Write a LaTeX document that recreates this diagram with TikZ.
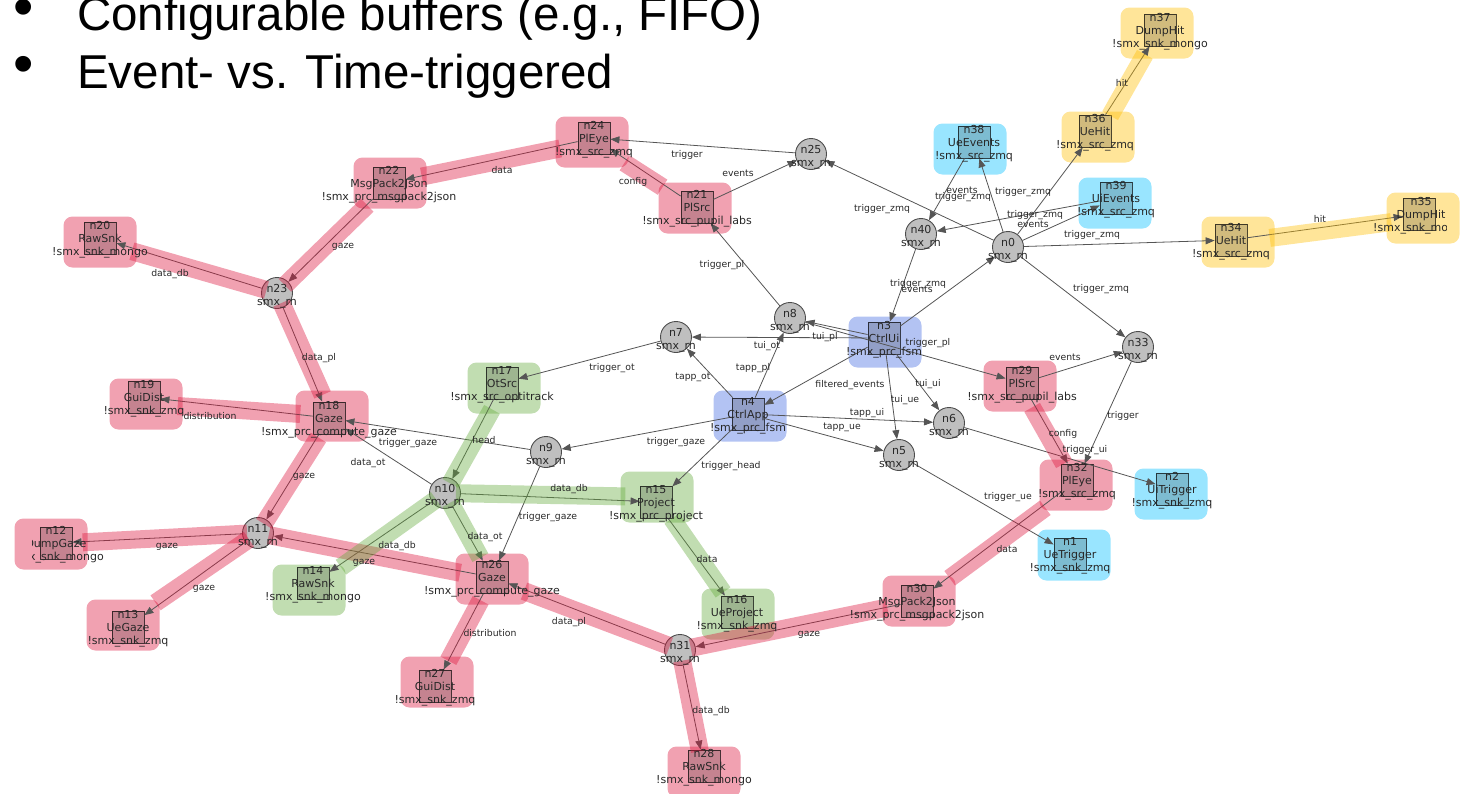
\documentclass[tikz,border=0pt]{standalone}
\usepackage{fontspec}
\setmainfont{DejaVu Sans}
\newfontfamily\titlefont{Liberation Sans}
\usetikzlibrary{arrows.meta}
\pgfdeclarelayer{bg}
\pgfdeclarelayer{bandlayer}
\pgfdeclarelayer{fg}
\pgfsetlayers{bg,main,bandlayer,fg}
\definecolor{pk}{RGB}{220,20,60}
\definecolor{bl}{RGB}{65,105,225}
\definecolor{cy}{RGB}{0,191,255}
\definecolor{gr}{RGB}{100,170,60}
\definecolor{ye}{RGB}{255,190,0}
\definecolor{edgegray}{RGB}{85,85,85}
\definecolor{txtgray}{RGB}{40,40,40}
\tikzset{
  hlbox/.style={rectangle, rounded corners=9pt, minimum width=73pt, minimum height=51pt, inner sep=0pt, fill=#1, fill opacity=0.4, draw=none},
  sqnode/.style={rectangle, minimum size=32pt, inner sep=0pt, fill=black, fill opacity=0.18, draw=black, draw opacity=0.7, line width=0.8pt},
  rnnode/.style={circle, minimum size=31pt, inner sep=0pt, fill=black!25, draw=black!70, line width=0.9pt},
  nlabel/.style={align=center, inner sep=0pt, text=txtgray, font=\fontsize{11}{13}\selectfont},
  elabel/.style={inner sep=0pt, text=txtgray, font=\fontsize{9.3}{11}\selectfont},
  arr/.style={draw=edgegray, line width=0.8pt, -{Triangle[length=9pt,width=7pt]}},
  band/.style={draw=#1, draw opacity=0.4, line width=18pt, shorten <=-5pt, shorten >=-5pt},
  titletext/.style={anchor=base west, inner sep=0pt, font=\titlefont\fontsize{47.5}{57}\selectfont},
  bulletmark/.style={anchor=center, inner sep=0pt, font=\titlefont\fontsize{58}{60}\selectfont},
}
\newcommand{\mkSQbox}[6]{%
  \begin{pgfonlayer}{bg}\node[hlbox=#6] (h#1) at (#4,#5) {};\end{pgfonlayer}
  \node[sqnode] (#1) at (#2,#3) {};}
\newcommand{\mkSQtext}[5]{%
  \begin{pgfonlayer}{fg}\node[nlabel] (t#1) at (#2,#3+2) {#1\\#4\\#5};\end{pgfonlayer}}
\newcommand{\mkSQ}[8]{\mkSQbox{#1}{#2}{#3}{#4}{#5}{#6}\mkSQtext{#1}{#2}{#3}{#7}{#8}}
\newcommand{\mkRN}[3]{\node[rnnode] (#1) at (#2,#3) {};
  \begin{pgfonlayer}{fg}\node[nlabel] (t#1) at (#2,#3+3) {#1\\smx\_rn};\end{pgfonlayer}}
\newcommand{\mkEL}[4]{\begin{pgfonlayer}{fg}\node[elabel] (#1) at (#2,#3) {#4};\end{pgfonlayer}}

\begin{document}
\begin{tikzpicture}[x=1pt,y=-1pt]
\useasboundingbox (0,0) rectangle (1461,793);

% title bullets
\node[bulletmark] (bul1) at (24,13) {•};
\node[titletext] (title1) at (77,30) {Configurable buffers (e.g., FIFO)};
\node[bulletmark] (bul2) at (24,70) {•};
\node[titletext] (title2) at (77,88) {Event- vs. Time-triggered};

% square nodes
\mkSQ{n24}{594}{138}{592}{142}{pk}{PlEye}{!smx\_src\_zmq}
\mkSQ{n22}{389}{183}{390}{183}{pk}{MsgPack2Json}{!smx\_prc\_msgpack2json}
\mkSQ{n21}{697}{207}{695}{208}{pk}{PlSrc}{!smx\_src\_pupil\_labs}
\mkSQ{n20}{100}{238}{100}{242}{pk}{RawSnk}{!smx\_snk\_mongo}
\mkSQ{n38}{974}{142}{970}{149}{cy}{UeEvents}{!smx\_src\_zmq}
\mkSQ{n37}{1160}{30}{1157}{33}{ye}{DumpHit}{!smx\_snk\_mongo}
\mkSQ{n36}{1095}{131}{1098}{137}{ye}{UeHit}{!smx\_src\_zmq}
\mkSQ{n39}{1116}{198}{1115}{203}{cy}{UiEvents}{!smx\_src\_zmq}
\mkSQ{n34}{1231}{240}{1238}{242}{ye}{UeHit}{!smx\_src\_zmq}
\mkSQbox{n35}{1419}{214}{1423}{218}{ye}
\mkSQ{n19}{144}{397}{146}{404}{pk}{GuiDist}{!smx\_snk\_zmq}
\mkSQ{n18}{329}{418}{332}{416}{pk}{Gaze}{!smx\_prc\_compute\_gaze}
\mkSQ{n17}{502}{383}{504}{388}{gr}{OtSrc}{!smx\_src\_optitrack}
\mkSQ{n15}{656}{502}{657}{497}{gr}{Project}{!smx\_prc\_project}
\mkSQ{n3}{884}{338}{885}{342}{bl}{CtrlUi}{!smx\_prc\_fsm}
\mkSQ{n4}{748}{414}{750}{416}{bl}{CtrlApp}{!smx\_prc\_fsm}
\mkSQ{n29}{1022}{383}{1020}{386}{pk}{PlSrc}{!smx\_src\_pupil\_labs}
\mkSQ{n32}{1077}{480}{1076}{485}{pk}{PlEye}{!smx\_src\_zmq}
\mkSQ{n2}{1172}{489}{1171}{494}{cy}{UiTrigger}{!smx\_snk\_zmq}
\mkSQbox{n12}{56}{543}{51}{544}{pk}
\mkSQ{n13}{128}{627}{123}{625}{pk}{UeGaze}{!smx\_snk\_zmq}
\mkSQ{n14}{313}{583}{309}{590}{gr}{RawSnk}{!smx\_snk\_mongo}
\mkSQ{n26}{492}{577}{492}{579}{pk}{Gaze}{!smx\_prc\_compute\_gaze}
\mkSQ{n27}{435}{686}{437}{682}{pk}{GuiDist}{!smx\_snk\_zmq}
\mkSQ{n28}{704}{766}{704}{772}{pk}{RawSnk}{!smx\_snk\_mongo}
\mkSQ{n16}{737}{612}{738}{614}{gr}{UeProject}{!smx\_snk\_zmq}
\mkSQ{n30}{917}{601}{919}{601}{pk}{MsgPack2Json}{!smx\_prc\_msgpack2json}
\mkSQ{n1}{1070}{554}{1074}{555}{cy}{UeTrigger}{!smx\_snk\_zmq}

\begin{pgfonlayer}{fg}
\begin{scope}
\clip (32,500) rectangle (200,600);
\node[nlabel] (tn12) at (56,545) {n12\\DumpGaze\\!smx\_snk\_mongo};
\end{scope}
\begin{scope}
\clip (1300,150) rectangle (1446,280);
\node[nlabel] (tn35) at (1421,216) {n35\\DumpHit\\!smx\_snk\_mongo};
\end{scope}
\end{pgfonlayer}

% router nodes
\mkRN{n25}{811}{154}
\mkRN{n40}{921}{234}
\mkRN{n0}{1008}{247}
\mkRN{n23}{277}{293}
\mkRN{n7}{676}{337}
\mkRN{n8}{790}{318}
\mkRN{n9}{546}{452}
\mkRN{n10}{445}{493}
\mkRN{n6}{949}{423}
\mkRN{n5}{899}{455}
\mkRN{n33}{1138}{347}
\mkRN{n11}{258}{533}
\mkRN{n31}{680}{650}

% connectors
\draw[arr] (n24) -- (n22);
\draw[arr] (n21) -- (n24);
\draw[arr] (n25) -- (n24);
\draw[arr] (n21) -- (n25);
\draw[arr] (n0) -- (n25);
\draw[arr] (n8) -- (n21);
\draw[arr] (n22) -- (n23);
\draw[arr] (n23) -- (n20);
\draw[arr] (n23) -- (n18);
\draw[arr] (n18) -- (n19);
\draw[arr] (n18) -- (n11);
\draw[arr] (n9) -- (n18);
\draw[arr] (n10) -- (n18);
\draw[arr] (n17) -- (n10);
\draw[arr] (n10) -- (n15);
\draw[arr] (n10) -- (n14);
\draw[arr] (n26) -- (n11);
\draw[arr] (n10) -- (n26);
\draw[arr] (n9) -- (n26);
\draw[arr] (n4) -- (n9);
\draw[arr] (n7) -- (n17);
\draw[arr] (n4) -- (n7);
\draw[arr] (n4) -- (n8);
\draw[arr] (n3) -- (n7);
\draw[arr] (n3) -- (n8);
\draw[arr] (n8) -- (n29);
\draw[arr] (n3) -- (n4);
\draw[arr] (n3) -- (n5);
\draw[arr] (n3) -- (n6);
\draw[arr] (n4) -- (n6);
\draw[arr] (n4) -- (n5);
\draw[arr] (n4) -- (n15);
\draw[arr] (n6) -- (n2);
\draw[arr] (n5) -- (n1);
\draw[arr] (n33) -- (n32);
\draw[arr] (n29) -- (n32);
\draw[arr] (n29) -- (n33);
\draw[arr] (n0) -- (n33);
\draw[arr] (n32) -- (n30);
\draw[arr] (n30) -- (n31);
\draw[arr] (n31) -- (n26);
\draw[arr] (n31) -- (n28);
\draw[arr] (n26) -- (n27);
\draw[arr] (n15) -- (n16);
\draw[arr] (n3) -- (n0);
\draw[arr] (n40) -- (n3);
\draw[arr] (n38) -- (n40);
\draw[arr] (n0) -- (n38);
\draw[arr] (n39) -- (n40);
\draw[arr] (n0) -- (n39);
\draw[arr] (n0) -- (n36);
\draw[arr] (n0) -- (n34);
\draw[arr] (n36) -- (n37);
\draw[arr] (n34) -- (n35);
\draw[arr] (n11) -- (n12);
\draw[arr] (n11) -- (n13);

% highlighted paths
\begin{pgfonlayer}{bandlayer}
\draw[band=pk] (hn24) -- (hn22);
\draw[band=pk] (hn21) -- (hn24);
\draw[band=pk] (hn22) -- (n23);
\draw[band=pk] (n23) -- (hn20);
\draw[band=pk] (n23) -- (hn18);
\draw[band=pk] (hn18) -- (hn19);
\draw[band=pk] (hn18) -- (n11);
\draw[band=pk] (n11) -- (hn12);
\draw[band=pk] (n11) -- (hn13);
\draw[band=pk] (hn26) -- (n11);
\draw[band=pk] (hn26) -- (hn27);
\draw[band=pk] (n31) -- (hn26);
\draw[band=pk] (n31) -- (hn28);
\draw[band=pk] (hn30) -- (n31);
\draw[band=pk] (hn32) -- (hn30);
\draw[band=pk] (hn29) -- (hn32);
\draw[band=gr] (hn17) -- (n10);
\draw[band=gr] (n10) -- (hn15);
\draw[band=gr] (n10) -- (hn14);
\draw[band=gr] (n10) -- (hn26);
\draw[band=gr] (hn15) -- (hn16);
\draw[band=ye] (hn36) -- (hn37);
\draw[band=ye] (hn34) -- (hn35);
\end{pgfonlayer}

% connector labels
\mkEL{e1}{502}{170}{data}
\mkEL{e2}{633}{182}{config}
\mkEL{e3}{687}{155}{trigger}
\mkEL{e4}{738}{173}{events}
\mkEL{e5}{882}{209}{trigger\_zmq}
\mkEL{e6}{722}{265}{trigger\_pl}
\mkEL{e7}{343}{247}{gaze}
\mkEL{e8}{170}{274}{data\_db}
\mkEL{e9}{319}{358}{data\_pl}
\mkEL{e10}{210}{416}{distribution}
\mkEL{e11}{304}{477}{gaze}
\mkEL{e12}{408}{443}{trigger\_gaze}
\mkEL{e13}{368}{463}{data\_ot}
\mkEL{e14}{484}{440}{head}
\mkEL{e15}{569}{489}{data\_db}
\mkEL{e16}{397}{546}{data\_db}
\mkEL{e17}{364}{563}{gaze}
\mkEL{e18}{485}{537}{data\_ot}
\mkEL{e19}{548}{517}{trigger\_gaze}
\mkEL{e20}{676}{442}{trigger\_gaze}
\mkEL{e21}{612}{368}{trigger\_ot}
\mkEL{e22}{693}{377}{tapp\_ot}
\mkEL{e23}{753}{368}{tapp\_pl}
\mkEL{e24}{767}{346}{tui\_ot}
\mkEL{e25}{825}{337}{tui\_pl}
\mkEL{e26}{928}{343}{trigger\_pl}
\mkEL{e27}{850}{385}{filtered\_events}
\mkEL{e28}{905}{400}{tui\_ue}
\mkEL{e29}{928}{384}{tui\_ui}
\mkEL{e30}{867}{413}{tapp\_ui}
\mkEL{e31}{842}{427}{tapp\_ue}
\mkEL{e32}{731}{466}{trigger\_head}
\mkEL{e33}{1085}{450}{trigger\_ui}
\mkEL{e34}{1008}{497}{trigger\_ue}
\mkEL{e35}{1123}{416}{trigger}
\mkEL{e36}{1063}{434}{config}
\mkEL{e37}{1065}{357}{events}
\mkEL{e38}{1101}{289}{trigger\_zmq}
\mkEL{e39}{1007}{549}{data}
\mkEL{e40}{809}{635}{gaze}
\mkEL{e41}{569}{622}{data\_pl}
\mkEL{e42}{711}{711}{data\_db}
\mkEL{e43}{490}{633}{distribution}
\mkEL{e44}{707}{559}{data}
\mkEL{e45}{917}{289}{events}
\mkEL{e46}{918}{284}{trigger\_zmq}
\mkEL{e47}{962}{190}{events}
\mkEL{e48}{1023}{192}{trigger\_zmq}
\mkEL{e49}{1033}{224}{events}
\mkEL{e50}{1035}{215}{trigger\_zmq}
\mkEL{e51}{963}{197}{trigger\_zmq}
\mkEL{e52}{1092}{235}{trigger\_zmq}
\mkEL{e53}{1122}{83}{hit}
\mkEL{e54}{1320}{219}{hit}
\mkEL{e55}{167}{547}{gaze}
\mkEL{e56}{204}{589}{gaze}
\end{tikzpicture}
\end{document}
